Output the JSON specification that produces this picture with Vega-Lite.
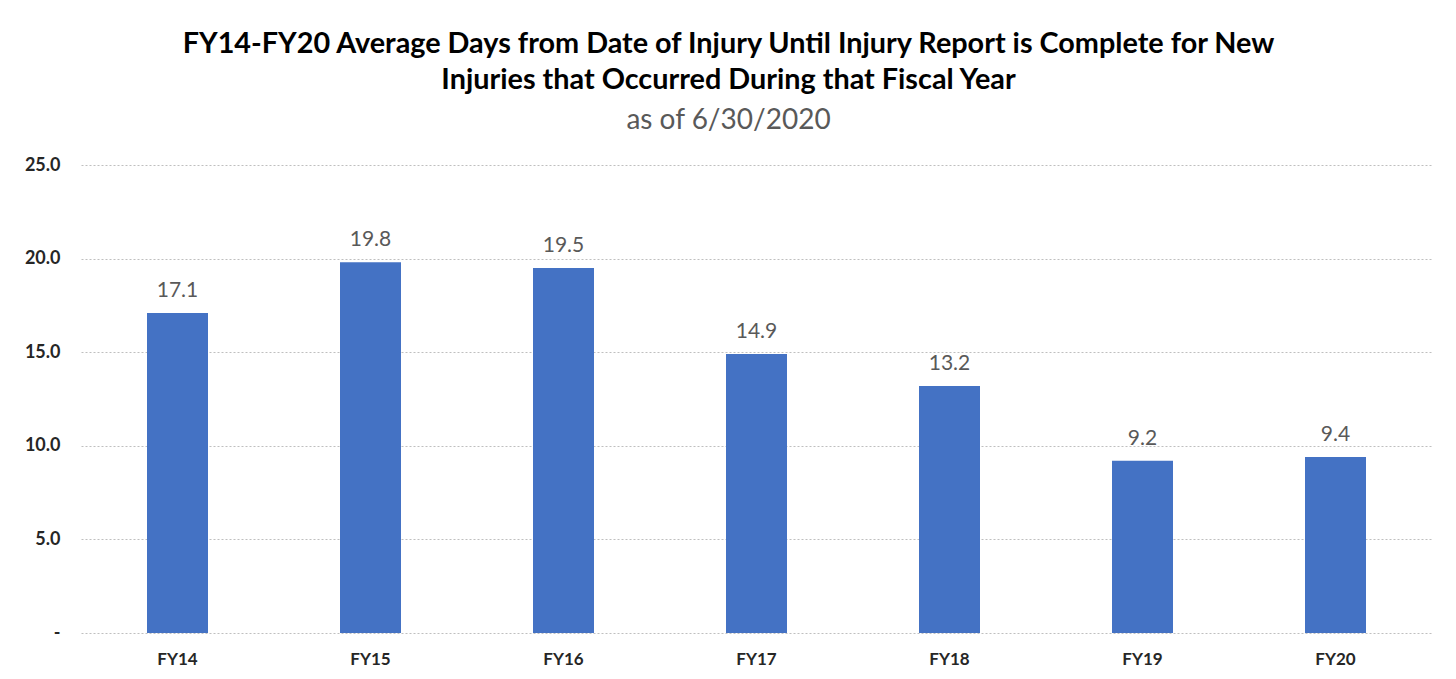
{
  "$schema": "https://vega.github.io/schema/vega-lite/v6.json",
  "width": 1351,
  "height": 468,
  "autosize": {"type": "none"},
  "padding": {"left": 81, "top": 165, "right": 24, "bottom": 46},
  "background": "white",
  "config": {"view": {"stroke": null}, "font": "Lato"},
  "title": {
    "text": ["FY14-FY20 Average Days from Date of Injury Until Injury Report is Complete for New", "Injuries that Occurred During that Fiscal Year"],
    "subtitle": "as of 6/30/2020",
    "anchor": "middle",
    "dx": -28,
    "offset": 21,
    "font": "Lato",
    "fontSize": 28.8,
    "fontWeight": "bold",
    "color": "#000000",
    "lineHeight": 36,
    "subtitleFont": "Lato",
    "subtitleFontSize": 28,
    "subtitleColor": "#595959",
    "subtitlePadding": 12
  },
  "data": {
    "values": [
      {"year": "FY14", "days": 17.1},
      {"year": "FY15", "days": 19.8},
      {"year": "FY16", "days": 19.5},
      {"year": "FY17", "days": 14.9},
      {"year": "FY18", "days": 13.2},
      {"year": "FY19", "days": 9.2},
      {"year": "FY20", "days": 9.4}
    ]
  },
  "encoding": {
    "x": {
      "field": "year",
      "type": "nominal",
      "sort": null,
      "title": null,
      "axis": {
        "labelAngle": 0,
        "labelFont": "Lato",
        "labelFontSize": 17,
        "labelFontWeight": "bold",
        "labelColor": "#262626",
        "labelPadding": 18,
        "domain": false,
        "ticks": false
      }
    },
    "y": {
      "field": "days",
      "type": "quantitative",
      "title": null,
      "scale": {"domain": [0, 25]},
      "axis": {
        "values": [0, 5, 10, 15, 20, 25],
        "labelExpr": "datum.value == 0 ? '-' : format(datum.value, '.1f')",
        "labelFont": "Lato",
        "labelFontSize": 18,
        "labelFontWeight": "bold",
        "labelColor": "#262626",
        "labelPadding": 21,
        "domain": false,
        "ticks": false,
        "grid": true,
        "gridColor": "#bfbfbf",
        "gridDash": [2, 2],
        "gridWidth": 1
      }
    }
  },
  "layer": [
    {
      "mark": {"type": "bar", "width": 61, "color": "#4472C4"}
    },
    {
      "mark": {"type": "text", "dy": -16, "font": "Lato", "fontSize": 21, "color": "#595959", "baseline": "alphabetic"},
      "encoding": {"text": {"field": "days", "type": "quantitative", "format": ".1f"}}
    }
  ]
}
